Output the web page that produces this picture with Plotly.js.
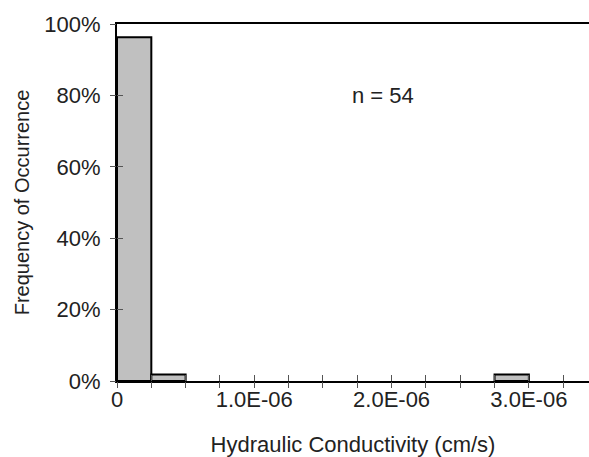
<!DOCTYPE html>
<html>
<head>
<meta charset="utf-8">
<script src="https://cdn.plot.ly/plotly-3.0.1.min.js"></script>
<style>html,body{margin:0;padding:0;background:#fff;}#chart{width:589px;height:457px;}</style>
</head>
<body>
<div id="chart"></div>
<script>
// Histogram bins (cm/s) and frequency of occurrence
const binWidth = 0.25e-6;
const binStarts = [0, 0.25e-6, 2.75e-6];
const frequencies = [52/54, 1/54, 1/54];
const sampleCount = 54;

const xTickVals = [0, 1e-6, 2e-6, 3e-6];
const xTickText = ['0', '1.0E-06', '2.0E-06', '3.0E-06'];
const yTickVals = [0, 0.2, 0.4, 0.6, 0.8, 1.0];
const yTickText = ['0%', '20%', '40%', '60%', '80%', '100%'];

const xMax = 3.438e-6;
const FONT = 'Liberation Sans, Arial, sans-serif';

const traces = [
  {
    type: 'bar',
    x: binStarts,
    y: frequencies,
    width: binStarts.map(() => binWidth),
    offset: 0,
    marker: {color: '#c0c0c0', line: {color: '#000', width: 2}},
    hoverinfo: 'skip',
    showlegend: false
  },
  {
    type: 'scatter', mode: 'markers', x: [0], y: [0],
    xaxis: 'x2', yaxis: 'y2', marker: {opacity: 0}, hoverinfo: 'skip', showlegend: false
  }
];

const layout = {
  width: 589, height: 457,
  margin: {l: 117, r: 0, t: 24, b: 76},
  paper_bgcolor: '#fff', plot_bgcolor: '#fff',
  font: {family: FONT, size: 22, color: '#222'},
  bargap: 0,
  xaxis: {
    range: [0, xMax],
    tickmode: 'array', tickvals: xTickVals, ticktext: xTickText,
    ticks: 'inside', ticklen: 6, tickwidth: 1, tickcolor: '#555',
    minor: {dtick: binWidth, ticks: 'inside', ticklen: 6, tickwidth: 1, tickcolor: '#555', showgrid: false},
    ticklabelstandoff: -2,
    showline: true, linecolor: '#000', linewidth: 2, mirror: true,
    showgrid: false, zeroline: false,
    tickfont: {size: 22, family: FONT, color: '#222'},
    title: {text: 'Hydraulic Conductivity (cm/s)', font: {size: 22, family: FONT, color: '#222'}, standoff: 26}
  },
  yaxis: {
    range: [0, 1],
    tickmode: 'array', tickvals: yTickVals, ticktext: yTickText,
    ticks: 'inside', ticklen: 6, tickwidth: 1, tickcolor: '#555',
    ticklabelstandoff: 10,
    showline: true, linecolor: '#000', linewidth: 2,
    showgrid: false, zeroline: false,
    tickfont: {size: 22, family: FONT, color: '#222'},
    title: {text: 'Frequency of Occurrence', font: {size: 20, family: FONT, color: '#222'}, standoff: 9}
  },
  xaxis2: {
    overlaying: 'x', anchor: 'y2', side: 'bottom', range: [0, xMax],
    tickmode: 'array', tickvals: xTickVals, showticklabels: false,
    ticks: 'outside', ticklen: 6, tickwidth: 1, tickcolor: '#555',
    minor: {dtick: binWidth, ticks: 'outside', ticklen: 6, tickwidth: 1, tickcolor: '#555', showgrid: false},
    showline: false, showgrid: false, zeroline: false
  },
  yaxis2: {
    overlaying: 'y', anchor: 'x2', side: 'left', range: [0, 1],
    tickmode: 'array', tickvals: yTickVals, showticklabels: false,
    ticks: 'outside', ticklen: 6, tickwidth: 1, tickcolor: '#555',
    showline: false, showgrid: false, zeroline: false
  },
  annotations: [{
    x: 1.94e-6, y: 0.80, xref: 'x', yref: 'y',
    text: 'n = ' + sampleCount, showarrow: false,
    font: {size: 22, family: FONT, color: '#222'}
  }]
};

Plotly.newPlot('chart', traces, layout, {displayModeBar: false, staticPlot: true});
</script>
</body>
</html>
